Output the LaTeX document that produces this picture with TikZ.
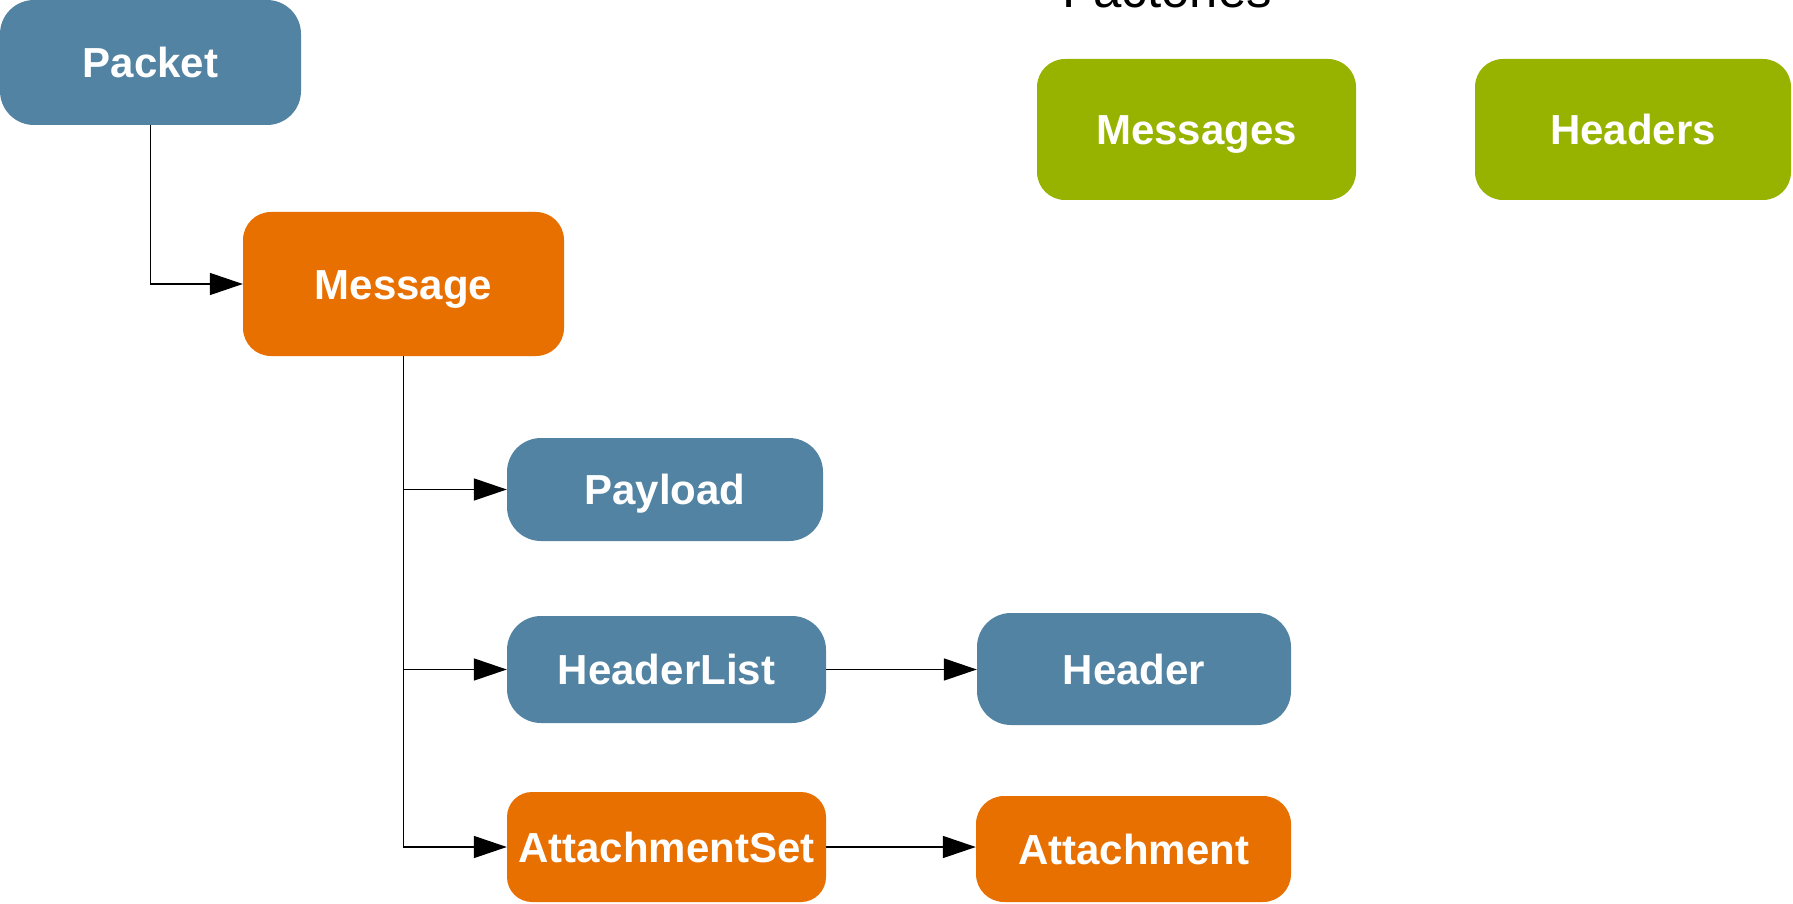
\documentclass[tikz,border=0pt]{standalone}
\usepackage{fontspec}
\setmainfont{Liberation Sans}
\usetikzlibrary{arrows.meta}
\definecolor{nodeblue}{RGB}{82,131,162}
\definecolor{nodeorange}{RGB}{232,112,0}
\definecolor{nodegreen}{RGB}{151,179,0}
\tikzset{
  box/.style={rectangle, rounded corners=#1, inner sep=0pt, text=white,
    text height=30pt, text depth=0pt,
    font=\fontsize{42}{50}\selectfont\bfseries},
  box/.default=34pt,
  bluebox/.style={box, fill=nodeblue},
  orangebox/.style={box=28pt, fill=nodeorange},
  greenbox/.style={box=28pt, fill=nodegreen},
  conn/.style={draw=black, line width=1.6pt},
  arr/.style={conn, -{Triangle[length=33pt, width=22pt]}},
}
\begin{document}
\begin{tikzpicture}[x=1pt, y=-1pt]
\useasboundingbox (0,0) rectangle (1793,904);
\node[bluebox, minimum width=301pt, minimum height=125pt] (packet) at (150.5,62.5) {Packet};
\node[orangebox, minimum width=321pt, minimum height=144pt] (message) at (403.5,284) {Message};
\node[bluebox, minimum width=316pt, minimum height=103pt] (payload) at (665,489.5) {Payload};
\node[bluebox, minimum width=319pt, minimum height=107pt] (headerlist) at (666.5,669.5) {HeaderList};
\node[bluebox, minimum width=314pt, minimum height=112pt] (header) at (1134,669) {Header};
\node[orangebox, rounded corners=25pt, minimum width=319pt, minimum height=110pt] (attset) at (666.5,847) {AttachmentSet};
\node[orangebox, minimum width=315pt, minimum height=106pt] (attach) at (1133.5,849) {Attachment};
\node[greenbox, minimum width=319pt, minimum height=141pt] (messages) at (1196.5,129.5) {Messages};
\node[greenbox, minimum width=316pt, minimum height=141pt] (headers) at (1633,129.5) {Headers};
\node[anchor=base, inner sep=0pt, font=\fontsize{51}{60}\selectfont] (factories) at (1167,8) {Factories};
\draw[arr] (packet.south) |- (message.west);
\draw[arr] (message.south) |- (payload.west);
\draw[arr] (message.south) |- (headerlist.west);
\draw[arr] (message.south) |- (attset.west);
\draw[arr] (headerlist.east) -- (header.west |- headerlist.east);
\draw[arr] (attset.east) -- (attach.west |- attset.east);
\end{tikzpicture}
\end{document}
